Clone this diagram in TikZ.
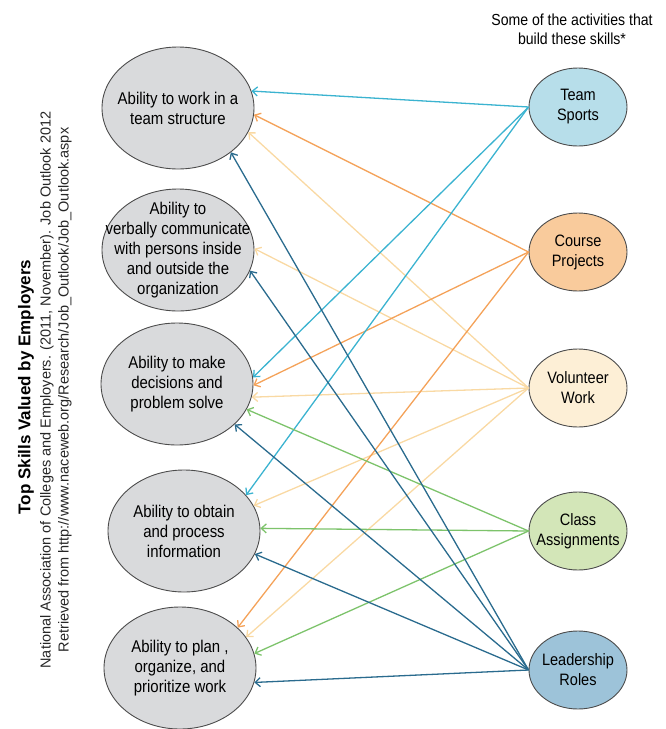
\documentclass[tikz,border=0pt]{standalone}
\usepackage{fontspec}
\setmainfont{Liberation Sans}
\newfontfamily\narrowfont{Liberation Sans}[FakeStretch=0.88]
\usetikzlibrary{arrows.meta,shapes.geometric}
\definecolor{skillfill}{HTML}{D9DADC}
\definecolor{sportsfill}{HTML}{B7DEEA}
\definecolor{projectfill}{HTML}{F9CB9C}
\definecolor{volunteerfill}{HTML}{FDEFD6}
\definecolor{classfill}{HTML}{D3E6B8}
\definecolor{leaderfill}{HTML}{9DC3D9}
\definecolor{sportsln}{HTML}{3BB3D0}
\definecolor{projectln}{HTML}{F4A259}
\definecolor{volunteerln}{HTML}{F9D9A3}
\definecolor{classln}{HTML}{7DC36B}
\definecolor{leaderln}{HTML}{2A6B8E}
\begin{document}
\begin{tikzpicture}[
          x=1pt,
          y=-1pt,
          skill/.style={ellipse, draw=black!70, line width=0.9pt, fill=skillfill,
            minimum width=152pt, minimum height=122pt, inner sep=-25pt, align=center,
            font=\narrowfont\fontsize{17}{20}\selectfont},
          act/.style={ellipse, draw=black!70, line width=0.9pt,
            minimum width=98pt, minimum height=78pt, inner sep=-25pt, align=center,
            font=\narrowfont\fontsize{16.5}{20}\selectfont},
          ln/.style={line width=1.3pt, -{Straight Barb[length=5pt,width=9pt]}},
          side/.style={rotate=90, font=\fontsize{14.5}{17}\selectfont, text=black!85},
        ]
      \useasboundingbox (0, 0) rectangle (665, 729);
      \node[skill] (s1) at (178, 108) {Ability to work in a\\team structure};
      \node[skill] (s2) at (178, 250) {Ability to\\verbally communicate\\with persons inside\\and outside the\\organization};
      \node[skill] (s3) at (177, 384) {Ability to make\\decisions and\\problem solve};
      \node[skill] (s4) at (184, 531) {Ability to obtain\\and process\\information};
      \node[skill] (s5) at (180, 668) {Ability to plan ,\\organize, and\\prioritize work};
      \node[act, fill=sportsfill] (sports) at (578, 107) {Team\\Sports};
      \node[act, fill=projectfill] (projects) at (578, 252) {Course\\Projects};
      \node[act, fill=volunteerfill] (volunteer) at (578, 388) {Volunteer\\Work};
      \node[act, fill=classfill] (class) at (578, 531) {Class\\Assignments};
      \node[act, fill=leaderfill] (leader) at (578, 670) {Leadership\\Roles};
      \node[align=center, font=\narrowfont\fontsize{16}{19}\selectfont] (activities) at (572, 29) {Some of the activities that\\build these skills*};
      \node[rotate=90, font=\bfseries\fontsize{17}{20}\selectfont] (heading) at (26, 387) {Top Skills Valued by Employers};
      \node[side] (source) at (47, 390) {National Association of Colleges and Employers. (2011, November). Job Outlook 2012};
      \node[side] (retrieved) at (65, 390) {Retrieved from http://www.naceweb.org/Research/Job\_Outlook/Job\_Outlook.aspx};
      \draw[ln, volunteerln] (volunteer.west) -- (s1.-19);
      \draw[ln, volunteerln] (volunteer.west) -- (s2.1);
      \draw[ln, volunteerln] (volunteer.west) -- (s3.-10);
      \draw[ln, volunteerln] (volunteer.west) -- (s4.20);
      \draw[ln, volunteerln] (volunteer.west) -- (s5.25);
      \draw[ln, projectln] (projects.west) -- (s1.-5);
      \draw[ln, projectln] (projects.west) -- (s3.-1);
      \draw[ln, projectln] (projects.west) -- (s5.35);
      \draw[ln, sportsln] (sports.west) -- (s1.13);
      \draw[ln, sportsln] (sports.west) -- (s3.5);
      \draw[ln, sportsln] (sports.west) -- (s4.30);
      \draw[ln, classln] (class.west) -- (s3.-20);
      \draw[ln, classln] (class.west) -- (s4.2);
      \draw[ln, classln] (class.west) -- (s5.11);
      \draw[ln, leaderln] (leader.west) -- (s1.-40);
      \draw[ln, leaderln] (leader.west) -- (s2.-16);
      \draw[ln, leaderln] (leader.west) -- (s3.-35);
      \draw[ln, leaderln] (leader.west) -- (s4.-18);
      \draw[ln, leaderln] (leader.west) -- (s5.-11);
    \end{tikzpicture}
\end{document}
